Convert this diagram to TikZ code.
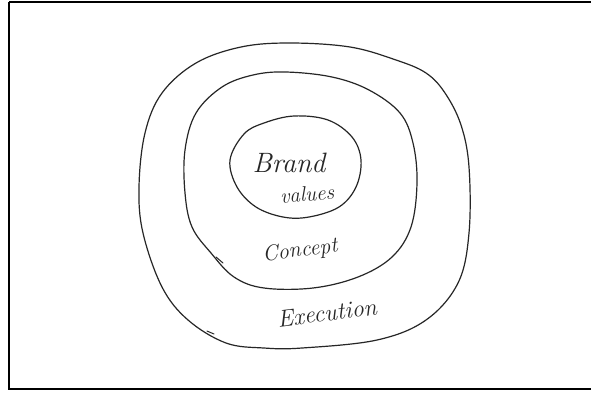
\documentclass[tikz,border=0pt]{standalone}
\begin{document}
\begin{tikzpicture}[x=1pt,y=-1pt,
  pen/.style={draw=black!85,line width=1.2pt,line cap=round,line join=round},
  hand/.style={font=\itshape,text=black!85,inner sep=0pt}]
\useasboundingbox (0,0) rectangle (591,392);
\fill[white] (0,0) rectangle (591,392);
\draw[line width=1.2pt] (9,2) -- (593,2);
\draw[line width=1.2pt] (9,2) -- (9,389) -- (593,389);
% outer
\draw[pen] plot[smooth cycle,tension=0.6] coordinates {
 (290,43) (350,47) (396,60) (426,73) (445,93) (461,125) (469,167) (469,233) (458,283)
 (426,320) (377,340) (302,348) (264,348) (226,343) (188,320) (162,287) (143,233)
 (139,187) (145,133) (162,93) (196,63) (241,47)};
% middle
\draw[pen] plot[smooth cycle,tension=0.6] coordinates {
 (286,72) (332,77) (369,90) (400,113) (413,143) (417,183) (411,227) (392,257)
 (358,277) (313,288) (264,288) (234,277) (211,253) (192,227) (185,193) (185,150)
 (196,113) (222,87) (253,75)};
% inner
\draw[pen] plot[smooth cycle,tension=0.6] coordinates {
 (230,160) (244,134) (264,123) (294,116) (328,120) (352,137) (361,160) (356,187)
 (339,207) (309,217) (283,217) (256,207) (237,187)};
% pen ticks
\draw[pen,line width=1pt] (216,257) -- (223,263);
\draw[pen,line width=1pt] (207,331) -- (214,334);
% labels
\node[hand,font=\itshape\fontsize{28}{30}\selectfont] (brand) at (289,163) {Brand};
\node[hand,font=\itshape\fontsize{21}{23}\selectfont,rotate=4] (values) at (307,194) {values};
\node[hand,font=\itshape\fontsize{22}{24}\selectfont,rotate=7] (concept) at (300,251) {Concept};
\node[hand,font=\itshape\fontsize{24}{26}\selectfont,rotate=7] (execution) at (327,313) {Execution};
\end{tikzpicture}
\end{document}
